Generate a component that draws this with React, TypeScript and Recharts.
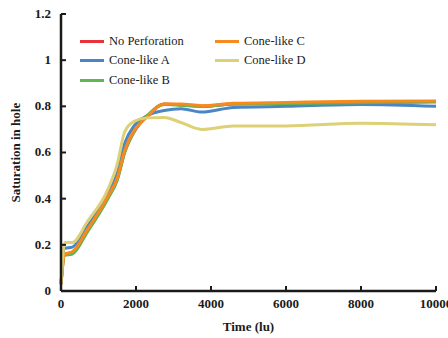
import { LineChart, Line, XAxis, YAxis } from "recharts";

const time = [0, 100, 300, 700, 1250, 1500, 1700, 1950, 2300, 2750, 3200, 3750, 4600, 6000, 8000, 10000];
const noPerforation = [0.03, 0.16, 0.165, 0.26, 0.405, 0.485, 0.605, 0.69, 0.757, 0.81, 0.806, 0.8, 0.81, 0.812, 0.815, 0.82];
const coneA = [0.03, 0.185, 0.19, 0.28, 0.42, 0.51, 0.64, 0.715, 0.76, 0.782, 0.79, 0.775, 0.795, 0.8, 0.808, 0.8];
const coneB = [0.03, 0.155, 0.16, 0.255, 0.4, 0.48, 0.6, 0.69, 0.76, 0.808, 0.805, 0.8, 0.81, 0.812, 0.815, 0.82];
const coneC = [0.03, 0.16, 0.17, 0.265, 0.41, 0.49, 0.61, 0.695, 0.755, 0.81, 0.81, 0.803, 0.813, 0.817, 0.822, 0.823];
const coneD = [0.03, 0.21, 0.21, 0.3, 0.44, 0.55, 0.69, 0.735, 0.75, 0.752, 0.73, 0.7, 0.715, 0.715, 0.727, 0.72];

const xTicks = [0, 2000, 4000, 6000, 8000, 10000];
const yTicks = [0, 0.2, 0.4, 0.6, 0.8, 1, 1.2];

const series = [
  { key: "noPerf", name: "No Perforation", color: "#e8333a", values: noPerforation },
  { key: "coneA", name: "Cone-like A", color: "#4a86c4", values: coneA },
  { key: "coneB", name: "Cone-like B", color: "#5fb653", values: coneB },
  { key: "coneC", name: "Cone-like C", color: "#f68a1f", values: coneC },
  { key: "coneD", name: "Cone-like D", color: "#ddd076", values: coneD },
];

const data = time.map((t, i) => {
  const row: any = { t };
  series.forEach((s) => (row[s.key] = s.values[i]));
  return row;
});

const font = "'Liberation Serif', 'Times New Roman', serif";
const ink = "#1a1a1a";

const BottomTick = ({ x, y, payload }: any) => (
  <g>
    <line x1={x} x2={x} y1={y} y2={y - 5} stroke={ink} strokeWidth={2} />
    <text x={x} y={y + 17} textAnchor="middle" fontFamily={font} fontWeight="bold" fontSize={13} fill={ink}>
      {payload.value}
    </text>
  </g>
);

const TopTick = ({ x, y }: any) => (
  <line x1={x} x2={x} y1={y} y2={y + 5} stroke={ink} strokeWidth={2} />
);

const LeftTick = ({ x, y, payload }: any) => (
  <g>
    <line x1={x} x2={x + 5} y1={y} y2={y} stroke={ink} strokeWidth={2} />
    <text x={x - 10} y={y} dy="0.3em" textAnchor="end" fontFamily={font} fontWeight="bold" fontSize={13} fill={ink}>
      {payload.value}
    </text>
  </g>
);

const RightTick = ({ x, y }: any) => (
  <line x1={x} x2={x - 5} y1={y} y2={y} stroke={ink} strokeWidth={2} />
);

// legend drawn as an overlay inside the plot, two columns
const LegendBox = () => (
  <div style={{ position: "absolute", left: 80, top: 33, width: 260, height: 70, fontFamily: font, fontSize: 12.5, color: ink }}>
    {series.map((s, i) => {
      const col = i < 3 ? 0 : 1;
      const row = i < 3 ? i : i - 3;
      return (
        <div
          key={s.key}
          style={{ position: "absolute", left: col * 135, top: row * 19.5, height: 16, display: "flex", alignItems: "center", whiteSpace: "nowrap" }}
        >
          <span style={{ display: "inline-block", width: 24, height: 3, background: s.color, marginRight: 5 }} />
          <span>{s.name}</span>
        </div>
      );
    })}
  </div>
);

export default function App() {
  return (
    <div style={{ position: "absolute", left: 0, top: 0, width: 448, height: 338 }}>
      <LineChart width={448} height={338} data={data} margin={{ top: 14, right: 12, bottom: 17, left: 21 }}>
        <XAxis
          dataKey="t"
          type="number"
          domain={[0, 10000]}
          ticks={xTicks}
          interval={0}
          tickSize={0}
          tickMargin={0}
          tick={BottomTick}
          height={30}
          axisLine={{ stroke: ink, strokeWidth: 2.5 }}
          tickLine={false}
          label={{ value: "Time (lu)", position: "insideBottom", offset: -10, fontFamily: font, fontWeight: "bold", fontSize: 13, fill: ink }}
        />
        <XAxis
          xAxisId="top"
          orientation="top"
          dataKey="t"
          type="number"
          domain={[0, 10000]}
          ticks={xTicks}
          interval={0}
          tickSize={0}
          tickMargin={0}
          tick={TopTick}
          height={0}
          axisLine={{ stroke: ink, strokeWidth: 2.5 }}
          tickLine={false}
        />
        <YAxis
          type="number"
          domain={[0, 1.2]}
          ticks={yTicks}
          interval={0}
          tickSize={0}
          tickMargin={0}
          tick={LeftTick}
          width={40}
          axisLine={{ stroke: ink, strokeWidth: 2.5 }}
          tickLine={false}
          label={{ value: "Saturation in hole", angle: -90, position: "insideLeft", offset: -6, dy: 50, fontFamily: font, fontWeight: "bold", fontSize: 13, fill: ink }}
        />
        <YAxis
          yAxisId="right"
          orientation="right"
          type="number"
          domain={[0, 1.2]}
          ticks={yTicks}
          interval={0}
          tickSize={0}
          tickMargin={0}
          tick={RightTick}
          width={0}
          axisLine={{ stroke: ink, strokeWidth: 2.5 }}
          tickLine={false}
        />
        {series.map((s) => (
          <Line
            key={s.key}
            dataKey={s.key}
            name={s.name}
            type="monotone"
            stroke={s.color}
            strokeWidth={3}
            dot={false}
            isAnimationActive={false}
          />
        ))}
      </LineChart>
      <LegendBox />
    </div>
  );
}
